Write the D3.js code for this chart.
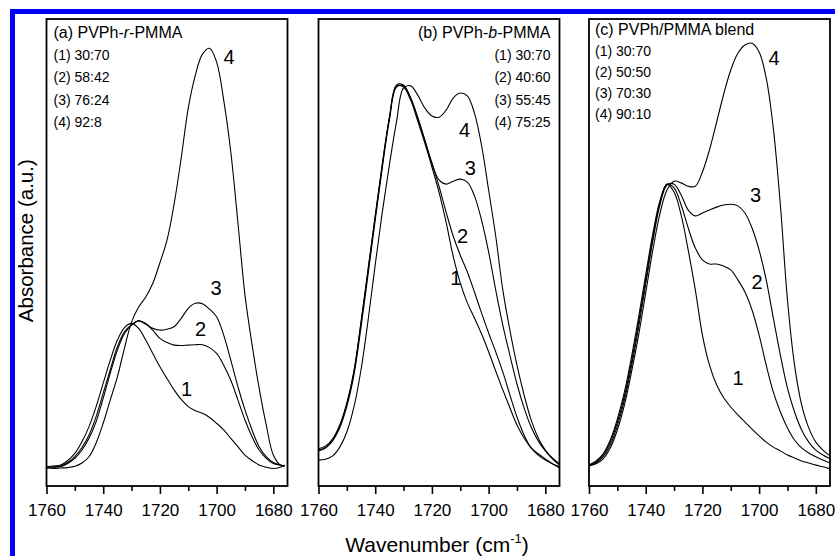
<!DOCTYPE html>
<html>
<head>
<meta charset="utf-8">
<script src="https://cdn.jsdelivr.net/npm/d3@7/dist/d3.min.js"></script>
<style>
  body { margin: 0; background: #fff; }
  svg { display: block; }
  text { font-family: "Liberation Sans", Arial, sans-serif; fill: #000; }
</style>
</head>
<body>
<svg id="chart" width="835" height="556"></svg>
<script>
// Wavenumber grids (cm-1) for each panel
const wavenumberA = [1760,1757.5,1755,1752.5,1750,1747.5,1745,1742.5,1740,1737.5,1735,1732.5,1730,1727.5,1725,1722.5,1720,1717.5,1715,1712.5,1710,1707.5,1705,1702.5,1700,1697.5,1695,1692.5,1690,1687.5,1685,1682.5,1680,1677.5,1676];
const wavenumberB = [1760,1757.5,1755,1752.5,1750,1747.5,1745,1742.5,1740,1737.5,1735,1732.5,1730,1727.5,1725,1722.5,1720,1717.5,1715,1712.5,1710,1707.5,1705,1702.5,1700,1697.5,1695,1692.5,1690,1687.5,1685,1682.5,1680,1677.5,1675];
const wavenumberC = wavenumberB;

// (a) PVPh-r-PMMA absorbance (a.u.)
const randomA1 = [-0.2,0,0.2,1.3,3.0,5.8,9.4,14.2,19.8,25.3,30.1,33.1,34.1,32.9,30.1,26.9,23.7,20.9,18.2,15.9,14.2,13.2,12.6,11.6,10.2,8.6,6.6,4.6,2.6,1.3,0.2,-0.3,-0.6,-0.3,0.2];
const randomA2 = [-0.3,-0.2,0,0.8,2.2,4.4,7.4,11.8,17.4,23.0,28.5,32.1,33.7,34.7,34.1,32.4,30.5,29.5,28.9,28.8,28.9,29.0,29.0,28.3,26.9,24.1,20.5,15.8,11.0,7.0,3.8,1.8,0.6,0.2,0];
const randomA3 = [-0.3,-0.3,-0.2,0.6,1.8,3.8,6.6,10.6,16.2,22.2,27.7,31.7,33.7,34.7,33.9,32.9,32.5,32.7,33.3,35.3,37.7,38.9,38.8,37.5,35.7,31.3,25.3,19.0,13.4,8.6,4.6,2.2,0.8,0.2,0];
const randomA4 = [-0.5,-0.6,-0.5,-0.4,-0.1,0.7,2.2,5.5,10.2,15.8,21.3,28.2,34.4,38.0,40.4,43.7,48.6,54.0,62.6,73.6,85.6,93.5,98.5,99.9,96.6,87.5,75.1,58.3,40.9,29.0,18.6,9.8,2.6,0.2,0];

// (b) PVPh-b-PMMA absorbance (a.u.)
const blockB1 = [3.8,4.5,6.2,9.6,14.8,22.5,34.2,46.9,59.5,72.0,83.2,90.9,90.6,87.5,82.5,77.2,71.5,65.5,58.3,50.2,43.8,39.0,35.4,31.6,27.3,22.7,18.2,13.9,9.8,6.7,4.3,2.9,1.7,0.5,-0.5];
const blockB2 = [3.6,4.3,6.0,9.1,14.3,21.8,33.2,45.9,58.8,71.3,82.7,90.6,90.9,88.0,83.2,77.9,72.4,66.9,60.7,55.0,50.4,46.4,41.6,36.6,31.8,27.3,22.5,17.0,11.7,7.4,4.3,2.6,1.4,0.5,-0.2];
const blockB3 = [4.1,4.8,6.5,9.8,15.1,22.7,34.4,47.1,59.8,72.2,83.4,91.1,91.1,88.0,83.4,77.9,72.4,68.4,67.4,68.1,68.6,67.9,64.6,58.8,51.2,42.1,33.7,26.5,19.6,13.9,9.3,6.0,3.6,1.7,0.2];
const blockB4 = [1.4,1.6,2.4,4.5,8.1,14.1,23.0,34.9,48.1,60.7,72.0,82.3,90.4,90.9,88.7,85.6,83.7,83.4,85.1,88.0,89.2,88.5,84.4,76.7,66.0,55.0,42.1,32.5,24.1,17.0,11.0,6.7,3.8,1.9,0.5];

// (c) PVPh/PMMA blend absorbance (a.u.)
const blendC1 = [0.2,1.2,2.9,6.2,11.2,17.7,26.1,35.6,45.7,55.5,63.4,67.4,65.5,60.0,51.6,42.1,31.3,24.1,19.4,16.3,14.1,12.2,10.5,8.8,7.2,5.7,4.5,3.6,2.6,1.9,1.2,0.7,0.2,-0.2,-0.7];
const blendC2 = [0.2,1.0,2.6,5.7,10.5,16.7,24.9,34.4,44.5,54.5,62.9,67.4,66.5,62.4,56.9,52.1,49.3,48.3,48.3,47.8,46.9,44.5,41.6,37.3,31.3,24.1,17.7,12.9,9.1,6.2,4.3,3.1,2.2,1.4,0.7];
const blendC3 = [0,0.7,2.2,5.0,9.6,15.8,23.9,33.2,43.5,53.8,62.4,67.2,67.4,64.8,61.2,59.8,60.5,61.2,61.9,62.4,62.6,62.2,60.5,56.9,51.6,44.5,35.4,26.5,18.6,12.9,8.6,5.7,3.8,2.6,1.7];
const blendC4 = [0,0.5,1.7,4.3,8.6,14.6,22.5,31.3,41.4,51.6,60.3,66.0,68.1,67.7,66.9,66.9,70.3,75.6,82.2,88.9,94.7,98.7,100.7,101.1,99.0,92.8,80.8,62.4,39.7,24.1,14.6,9.1,5.7,3.8,2.4];

// Legend entries (PVPh:PMMA ratios)
const ratiosA = ["(1) 30:70", "(2) 58:42", "(3) 76:24", "(4) 92:8"];
const ratiosB = ["(1) 30:70", "(2) 40:60", "(3) 55:45", "(4) 75:25"];
const ratiosC = ["(1) 30:70", "(2) 50:50", "(3) 70:30", "(4) 90:10"];

const curveNames = ["1", "2", "3", "4"];
const majorTicks = [1760, 1740, 1720, 1700, 1680];
const minorTicks = [1750, 1730, 1710, 1690];

const svg = d3.select("#chart");

// blue surround
svg.append("path")
  .attr("d", "M12.5,556V11.5H835")
  .attr("fill", "none").attr("stroke", "#0000ff").attr("stroke-width", 5);

const plotTop = 19, plotBottom = 486;
const y = d3.scaleLinear().domain([-4.8, 106.9]).range([plotBottom, plotTop]);

const panels = [
  { key: "a", left: 46.5, right: 287.5, wn: wavenumberA, series: [randomA1, randomA2, randomA3, randomA4],
    title: [["(a) PVPh-", "normal"], ["r", "italic"], ["-PMMA", "normal"]], legend: ratiosA,
    anchor: "start", lx: 53.5, titleY: 37.5, rowY: [59.5, 82, 104.5, 126.8],
    labels: [[186.5, 389], [200.5, 328.5], [216, 287.5], [229, 57]] },
  { key: "b", left: 318.5, right: 559.5, wn: wavenumberB, series: [blockB1, blockB2, blockB3, blockB4],
    title: [["(b) PVPh-", "normal"], ["b", "italic"], ["-PMMA", "normal"]], legend: ratiosB,
    anchor: "end", lx: 550.5, titleY: 37.5, rowY: [59.5, 82, 104.5, 126.8],
    labels: [[455.8, 277.5], [462.5, 235.5], [470.3, 167.5], [464.5, 130]] },
  { key: "c", left: 589, right: 830, wn: wavenumberC, series: [blendC1, blendC2, blendC3, blendC4],
    title: [["(c) PVPh/PMMA blend", "normal"]], legend: ratiosC,
    anchor: "start", lx: 595, titleY: 35.3, rowY: [56, 77.3, 98, 119],
    labels: [[738, 378], [757, 282], [755.5, 195], [774, 57.5]] }
];

panels.forEach(p => {
  const x = d3.scaleLinear().domain([1760, 1675]).range([p.left, p.right]);
  const g = svg.append("g");

  g.append("clipPath").attr("id", "clip-" + p.key)
    .append("rect").attr("x", p.left).attr("y", plotTop)
    .attr("width", p.right - p.left).attr("height", plotBottom - plotTop);

  const line = d3.line()
    .x((d, i) => x(p.wn[i]))
    .y(d => y(d))
    .curve(d3.curveCatmullRom.alpha(0.5));

  g.append("g").attr("clip-path", `url(#clip-${p.key})`)
    .selectAll("path").data(p.series).join("path")
    .attr("d", line)
    .attr("fill", "none").attr("stroke", "#000").attr("stroke-width", 1.1);

  // frame
  g.append("rect").attr("x", p.left).attr("y", plotTop)
    .attr("width", p.right - p.left).attr("height", plotBottom - plotTop)
    .attr("fill", "none").attr("stroke", "#000").attr("stroke-width", 1.8);

  // bottom axis: labelled majors and unlabelled minors
  const major = d3.axisBottom(x).tickValues(majorTicks).tickSize(8).tickPadding(10).tickFormat(d3.format("d"));
  const minor = d3.axisBottom(x).tickValues(minorTicks).tickSize(5).tickFormat("");
  [major, minor].forEach(ax => {
    const a = g.append("g").attr("transform", `translate(0,${plotBottom})`).call(ax);
    a.select(".domain").remove();
    a.selectAll("line").attr("stroke", "#000").attr("stroke-width", 1.6);
    a.selectAll("text").attr("font-size", 17).attr("font-family", '"Liberation Sans", Arial, sans-serif').attr("fill", "#000");
  });

  // legend title and ratios
  const t = g.append("text").attr("x", p.lx).attr("y", p.titleY)
    .attr("text-anchor", p.anchor).attr("font-size", 16);
  p.title.forEach(([s, st]) => t.append("tspan").attr("font-style", st).text(s));
  g.selectAll("text.ratio").data(p.legend).join("text").attr("class", "ratio")
    .attr("x", p.lx).attr("y", (d, i) => p.rowY[i])
    .attr("text-anchor", p.anchor).attr("font-size", 14).text(d => d);

  // curve numbers
  g.selectAll("text.num").data(curveNames).join("text").attr("class", "num")
    .attr("x", (d, i) => p.labels[i][0]).attr("y", (d, i) => p.labels[i][1] + 7.2)
    .attr("text-anchor", "middle").attr("font-size", 20).text(d => d);
});

// axis titles
const xt = svg.append("text").attr("x", 437).attr("y", 552)
  .attr("text-anchor", "middle").attr("font-size", 21);
xt.append("tspan").text("Wavenumber (cm");
xt.append("tspan").attr("font-size", 13).attr("dy", -9).text("-1");
xt.append("tspan").attr("dy", 9).text(")");

svg.append("text").attr("transform", "translate(33,240.7) rotate(-90)")
  .attr("text-anchor", "middle").attr("font-size", 20.5).text("Absorbance (a.u.)");
</script>
</body>
</html>
